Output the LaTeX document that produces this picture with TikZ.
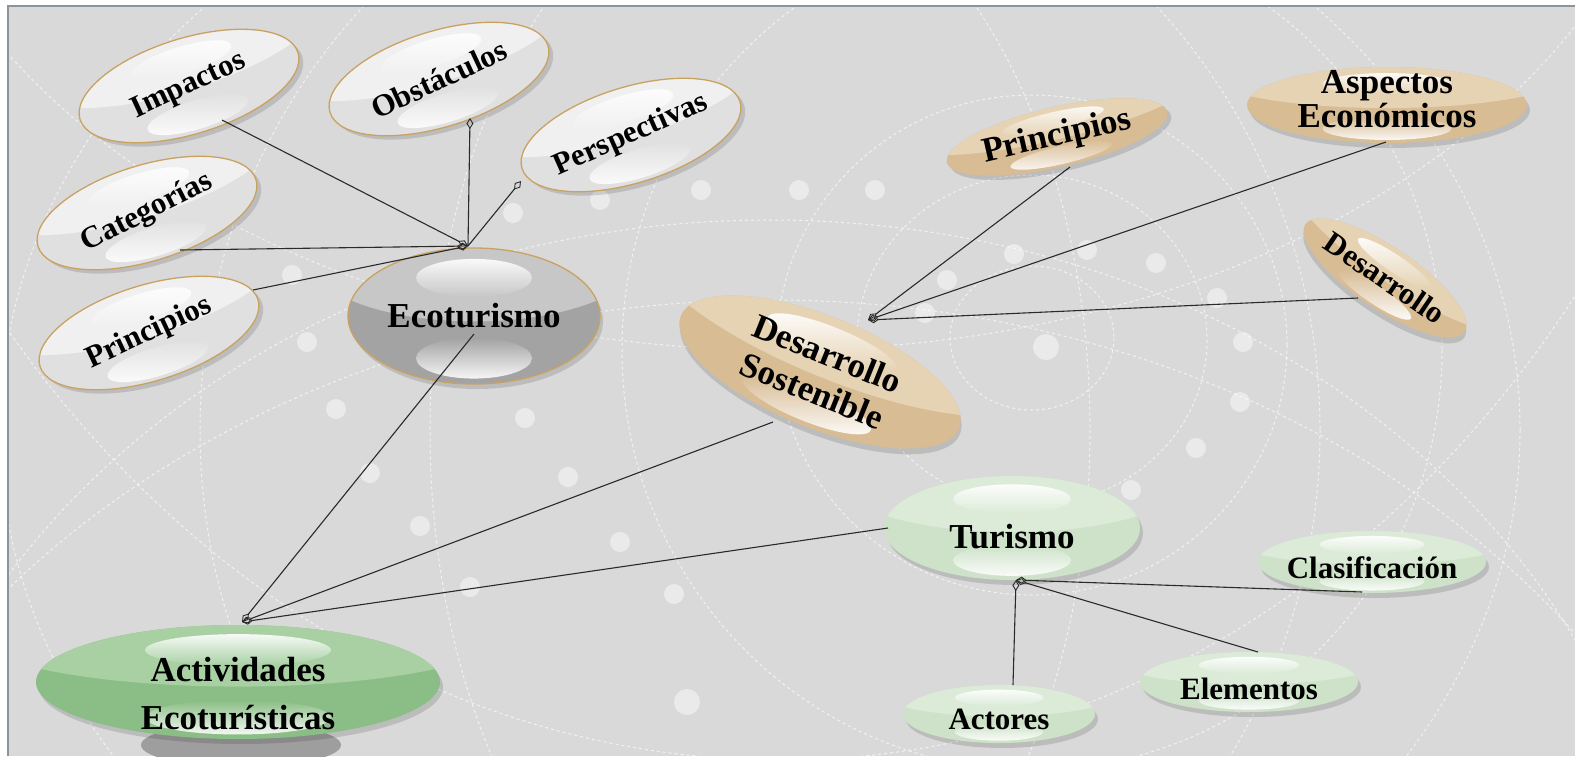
\documentclass[tikz,border=0pt]{standalone}
\usepackage{fontspec}
\setmainfont{Liberation Serif}
\usetikzlibrary{shapes.geometric,arrows.meta}
\definecolor{bgc}{HTML}{D9D9D9}
\definecolor{gold}{HTML}{C9A262}
\definecolor{framec}{HTML}{8A949C}
\definecolor{linec}{HTML}{2A2A2A}
\colorlet{satbase}{black!12}
\colorlet{sattop}{black!6}
\colorlet{ecobase}{black!36}
\colorlet{ecotop}{black!22}
\definecolor{tanbase}{HTML}{D8BC94}
\definecolor{tantop}{HTML}{E6D3B4}
\definecolor{lgrbase}{HTML}{CDE2C8}
\definecolor{lgrtop}{HTML}{DCEBD8}
\definecolor{dgrbase}{HTML}{8BBE86}
\definecolor{dgrtop}{HTML}{A8D0A3}
\tikzset{
  sat edge/.style={draw=gold,line width=1.3pt},
  eco edge/.style={draw=gold,line width=1.3pt},
  tan edge/.style={draw=none},
  lgr edge/.style={draw=none},
  dgr edge/.style={draw=none},
  conn/.style={draw=linec,line width=1.1pt},
  dia/.style={-{Diamond[open,length=11pt,width=7pt,line width=0.9pt]}},
  ringline/.style={draw=white,dashed,dash pattern=on 3pt off 3pt,line width=1pt,opacity=.65},
  dot/.style={fill=white,opacity=.45},
  subf/.style={font=\bfseries\fontsize{31}{34}\selectfont},
  mainf/.style={font=\bfseries\fontsize{35}{40}\selectfont},
}
% #1 name, #2 centre, #3 shape angle, #4 rx, #5 ry, #6 kind, #7 font style, #8 text, #9 text options
\newcommand\bub[9]{%
 \begin{scope}[shift={#2},rotate=#3]
  \fill[black,opacity=.13] (3,5) ellipse [x radius=#4,y radius=#5];
  \fill[#6base] (0,0) ellipse [x radius=#4,y radius=#5];
  \begin{scope}
   \clip (0,0) ellipse [x radius=#4,y radius=#5];
   \fill[#6top] (0,{-0.92*#5}) ellipse [x radius={1.35*#4},y radius={#5}];
   \shade[top color=white,bottom color=#6top,opacity=.9] (0,{-0.56*#5}) ellipse [x radius={0.46*#4},y radius={0.28*#5}];
   \shade[top color=#6base,bottom color=white,opacity=.9] (0,{0.62*#5}) ellipse [x radius={0.46*#4},y radius={0.3*#5}];
  \end{scope}
  \node[transform shape,ellipse,minimum width={2*#4},minimum height={2*#5},inner sep=0pt,#6 edge] (#1) at (0,0) {};
 \end{scope}
 \node[#7,align=center,inner sep=0pt,#9] (#1t) at #2 {#8};}
\begin{document}
\begin{tikzpicture}[x=1pt,y=-1pt]
\useasboundingbox (0,0) rectangle (1575,756);
\fill[white] (0,0) rectangle (1575,756);
\fill[bgc] (8,6) rectangle (1575,756);
\begin{scope}
\clip (8,6) rectangle (1575,756);
% rings
\draw[ringline] (1032,338) ellipse [x radius=82,y radius=72];
\draw[ringline] (1032,340) ellipse [x radius=175,y radius=165];
\draw[ringline] (1032,345) ellipse [x radius=255,y radius=250];
\draw[ringline] (1032,350) ellipse [x radius=410,y radius=420];
% globe meridians and parallels
\draw[ringline] (760,430) ellipse [x radius=330,y radius=560];
\draw[ringline] (760,430) ellipse [x radius=560,y radius=600];
\draw[ringline] (760,430) ellipse [x radius=760,y radius=620];
\draw[ringline] (770,980) ellipse [x radius=900,y radius=760];
\draw[ringline] (770,1120) ellipse [x radius=1000,y radius=820];
\draw[ringline] (780,-260) ellipse [x radius=900,y radius=610];
\draw[ringline] (780,-420) ellipse [x radius=1000,y radius=1180];
% dots
\foreach \p in {(701,190),(799,190),(875,190),(600,200),(513,213),(292,275),(307,342),(336,409),(525,418),(370,473),(568,477),(420,526),(620,542),(470,587),(674,594),(1014,254),(1087,250),(947,280),(1156,263),(1217,298),(925,313),(1243,342),(1240,402),(1196,448),(1131,490)}
  \fill[dot] \p circle (10);
\fill[dot] (1046,347) circle (13);
\fill[dot] (687,702) circle (13);
\end{scope}
\draw[framec,line width=1.2pt] (8,756) -- (8,6) -- (1575,6);
% shadow under Actividades
\begin{scope}
\clip (30,728) rectangle (460,756);
\fill[black!38] (241,745) ellipse [x radius=100,y radius=22];
\end{scope}
% bubbles
\bub{imp}{(189,86)}{17}{114}{48}{sat}{subf}{Impactos}{rotate=25}
\bub{obs}{(439,79)}{17}{114}{48}{sat}{subf}{Obstáculos}{rotate=25}
\bub{per}{(631,135)}{17}{114}{48}{sat}{subf}{Perspectivas}{rotate=24}
\bub{cat}{(147,213)}{17}{114}{48}{sat}{subf}{Categorías}{rotate=27}
\bub{pril}{(149,333)}{17}{114}{48}{sat}{subf}{Principios}{rotate=25}
\bub{eco}{(474,316)}{0}{126}{68}{eco}{mainf}{Ecoturismo}{}
\bub{prir}{(1057,137)}{13}{113}{30}{tan}{mainf}{Principios}{rotate=13}
\bub{asp}{(1387,105)}{0}{140}{38}{tan}{mainf}{Aspectos\\[-6pt]Económicos}{shift={(0,-6)}}
\bub{des}{(1385,278)}{-34}{96}{31}{tan}{subf}{Desarrollo}{rotate=-34}
\bub{ds}{(820,372)}{-22}{150}{56}{tan}{mainf}{Desarrollo\\Sostenible}{rotate=-22}
\bub{tur}{(1012,528)}{0}{128}{52}{lgr}{mainf}{Turismo}{shift={(0,9)}}
\bub{cla}{(1372,562)}{0}{114}{31}{lgr}{subf}{Clasificación}{shift={(0,6)}}
\bub{ele}{(1249,682)}{0}{109}{30}{lgr}{subf}{Elementos}{shift={(0,7)}}
\bub{acto}{(999,714)}{0}{96}{29}{lgr}{subf}{Actores}{shift={(0,5)}}
\bub{act}{(238,682)}{0}{202}{57}{dgr}{mainf}{Actividades\\[8pt]Ecoturísticas}{shift={(0,12)}}
% connector end points
\coordinate (ecoHub) at (468,246);
\coordinate (impEnd) at (222,120);
\coordinate (obsEnd) at (470,118);
\coordinate (perEnd) at (521,181);
\coordinate (catEnd) at (180,250);
\coordinate (prilEnd) at (253,290);
\coordinate (ecoBot) at (474,334);
\coordinate (actHub) at (242,622);
\coordinate (dsEnd) at (773,422);
\coordinate (turL) at (888,528);
\coordinate (dsHub) at (868,320);
\coordinate (prirEnd) at (1070,167);
\coordinate (aspEnd) at (1386,142);
\coordinate (desEnd) at (1358,298);
\coordinate (turHub) at (1016,580);
\coordinate (claEnd) at (1362,592);
\coordinate (eleEnd) at (1258,652);
\coordinate (actoEnd) at (1013,685);
% connectors
\draw[conn,dia] (impEnd) -- (ecoHub);
\draw[conn,dia] (catEnd) -- (ecoHub);
\draw[conn,dia] (prilEnd) -- (ecoHub);
\draw[conn,dia] (ecoHub) -- (obsEnd);
\draw[conn,dia] (ecoHub) -- (perEnd);
\draw[conn,dia] (ecoBot) -- (actHub);
\draw[conn,dia] (dsEnd) -- (actHub);
\draw[conn,dia] (turL) -- (actHub);
\draw[conn,dia] (prirEnd) -- (dsHub);
\draw[conn,dia] (aspEnd) -- (dsHub);
\draw[conn,dia] (desEnd) -- (dsHub);
\draw[conn,dia] (claEnd) -- (turHub);
\draw[conn,dia] (eleEnd) -- (turHub);
\draw[conn,dia] (actoEnd) -- (turHub);
\end{tikzpicture}
\end{document}
